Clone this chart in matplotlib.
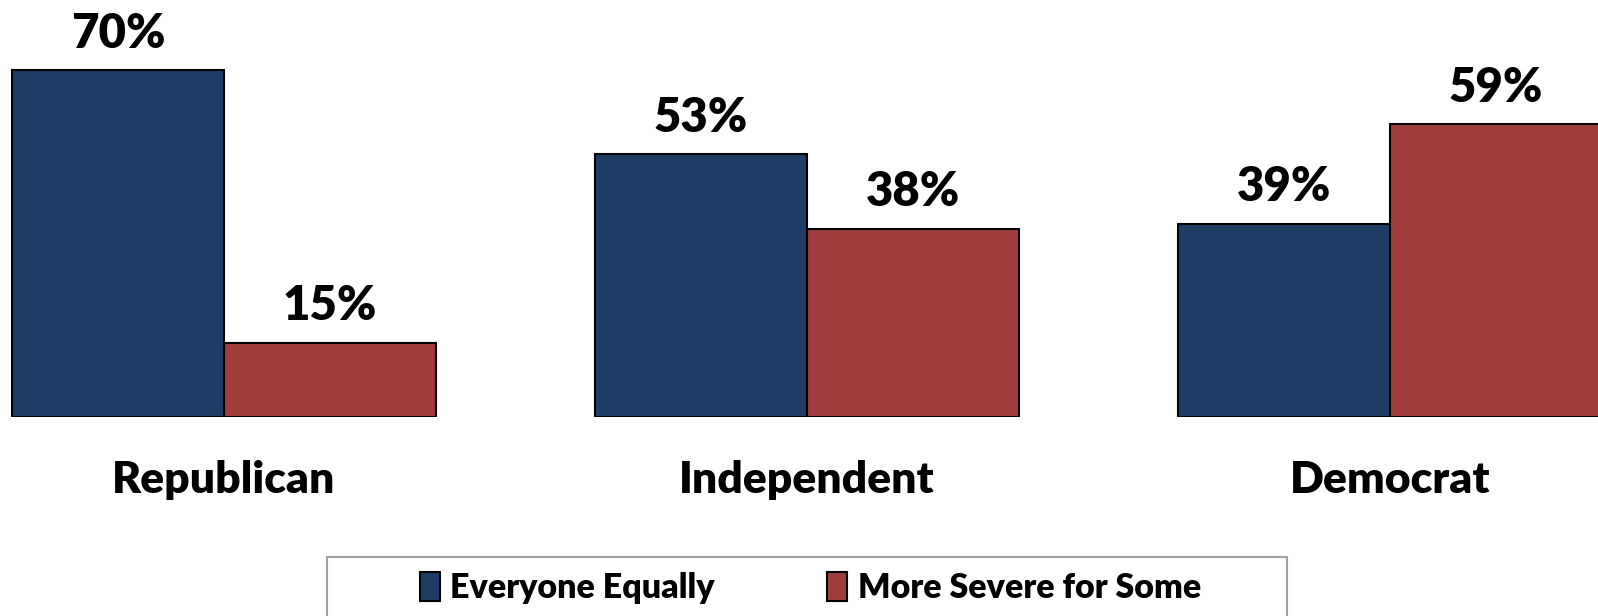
import numpy as np
import matplotlib.pyplot as plt
from matplotlib.patches import Rectangle

plt.rcParams['font.family'] = ['Lato', 'DejaVu Sans']

# data
categories = ["Republican", "Independent", "Democrat"]
series = ["Everyone Equally", "More Severe for Some"]
everyone_equally = [70, 53, 39]
more_severe = [15, 38, 59]
colors = ["#1F3E66", "#A03D3C"]

fig = plt.figure(figsize=(15.98, 6.16), dpi=100)
ax = fig.add_axes([0, 0.323, 1, 0.677])

x = np.arange(len(categories))
w = 0.3636
b1 = ax.bar(x - w / 2, everyone_equally, w, color=colors[0], edgecolor="black",
            linewidth=1.5, label=series[0])
b2 = ax.bar(x + w / 2, more_severe, w, color=colors[1], edgecolor="black",
            linewidth=1.5, label=series[1])

for bars in (b1, b2):
    for rect in bars:
        h = rect.get_height()
        ax.annotate(f"{h:.0f}%", (rect.get_x() + rect.get_width() / 2, h),
                    xytext=(0, 16), textcoords="offset points",
                    ha="center", va="baseline", fontsize=34, fontweight="heavy",
                    annotation_clip=False)

ax.set_xlim(-0.384, 2.357)
ax.set_ylim(0, 84.07)
ax.set_xticks(x)
ax.set_xticklabels(categories, fontsize=32, fontweight="heavy")
ax.tick_params(axis="x", length=0, pad=31)
ax.set_yticks([])
for s in ax.spines.values():
    s.set_visible(False)

# legend box (cut off at the bottom like the original)
fig.patches.append(Rectangle((0.2046, -0.05), 0.6008, 0.1458, transform=fig.transFigure,
                             facecolor="white", edgecolor="#A0A0A0", linewidth=1.5))
fig.legend(handles=[b1, b2], labels=series, loc="center", bbox_to_anchor=(0.507, 0.0455),
           ncol=2, frameon=False, prop={"size": 24.5, "weight": "heavy"},
           handlelength=0.6, handleheight=0.95, handletextpad=0.3, columnspacing=3.3)

fig.savefig("out.png", dpi=100)
